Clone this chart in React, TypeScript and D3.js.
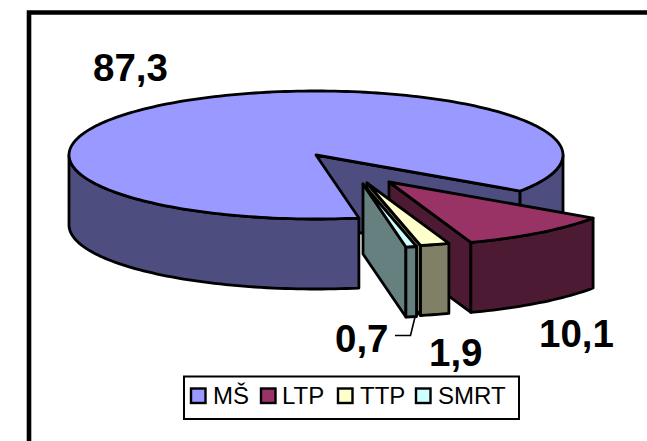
import React from "react";
import * as d3 from "d3";

// Share of each outcome, in percent
const categories = ["MŠ", "LTP", "TTP", "SMRT"];
const shares = [87.3, 10.1, 1.9, 0.7];
const shareLabels = ["87,3", "10,1", "1,9", "0,7"];
const topColors = ["#9999ff", "#993366", "#ffffcc", "#ccffff"];
const sideColors = ["#4d4d80", "#4d1a33", "#808066", "#668080"];

// Pull-out of each slice from the pie's centre, on screen
const explodeX = [0, 73, 51, 47];
const explodeY = [0, 27, 28, 29];

const CX = 316;
const CY = 155;
const RX = 247;
const RY = 64;
const DEPTH = 70;
const START = (170 * Math.PI) / 180;
const TAU = Math.PI * 2;

type Pt = [number, number];

const slices = d3
  .pie<number>()
  .sort(null)
  .startAngle(START)
  .endAngle(START + TAU)(shares);

const line = d3.line<Pt>();

// Point on the tilted rim; the angle runs clockwise from the top
const rim = (a: number, cx: number, cy: number): Pt => [
  cx + RX * Math.sin(a),
  cy - RY * Math.cos(a),
];

const rimPts = (a0: number, a1: number, cx: number, cy: number): Pt[] => {
  const n = Math.max(2, Math.ceil(Math.abs(a1 - a0) * 40));
  return d3.range(n + 1).map((i) => rim(a0 + ((a1 - a0) * i) / n, cx, cy));
};

// Outer wall between two angles
const wall = (a0: number, a1: number, cx: number, cy: number) => {
  const upper = rimPts(a0, a1, cx, cy);
  const lower = upper.map(([x, y]) => [x, y + DEPTH] as Pt).reverse();
  return line([...upper, ...lower]) + "Z";
};

// Flat cut face running from the centre out to the rim
const cut = (a: number, cx: number, cy: number) => {
  const [x, y] = rim(a, cx, cy);
  const pts: Pt[] = [
    [cx, cy],
    [x, y],
    [x, y + DEPTH],
    [cx, cy + DEPTH],
  ];
  return line(pts) + "Z";
};

const top = (a0: number, a1: number, cx: number, cy: number) =>
  line([[cx, cy], ...rimPts(a0, a1, cx, cy)]) + "Z";

const strokeProps = { stroke: "#000", strokeWidth: 2.8, strokeLinejoin: "round" as const };

const labelPos: Pt[] = [
  [93, 81],
  [539, 347],
  [429, 366],
  [335, 352],
];

const legendSwatchX = [191, 261, 338, 416];
const legendTextX = [213, 282, 360, 438];

export default function App() {
  const frontEnd = (270 * Math.PI) / 180;
  const backStart = (450 * Math.PI) / 180;
  const main = slices[0];
  const rest = slices.slice(1);

  return (
    <svg
      width={647}
      height={441}
      style={{ position: "absolute", left: 0, top: 0, background: "#fff" }}
      fontFamily="'Liberation Sans', Arial, sans-serif"
    >
      <path d="M647,12.5H29V441" fill="none" stroke="#000" strokeWidth={4.6} />

      {/* Large slice: walls first, then the top */}
      <path d={cut(main.endAngle, CX, CY)} fill={sideColors[0]} {...strokeProps} />
      <path d={wall(backStart, main.endAngle, CX, CY)} fill={sideColors[0]} {...strokeProps} />
      <path d={wall(main.startAngle, frontEnd, CX, CY)} fill={sideColors[0]} {...strokeProps} />
      <path d={top(main.startAngle, main.endAngle, CX, CY)} fill={topColors[0]} {...strokeProps} />

      {/* Pulled-out slices, back to front */}
      {rest.map((s, i) => {
        const k = i + 1;
        const cx = CX + explodeX[k];
        const cy = CY + explodeY[k];
        return (
          <g key={categories[k]}>
            <path d={cut(s.endAngle, cx, cy)} fill={sideColors[k]} {...strokeProps} />
            <path d={wall(s.startAngle, s.endAngle, cx, cy)} fill={sideColors[k]} {...strokeProps} />
            <path d={top(s.startAngle, s.endAngle, cx, cy)} fill={topColors[k]} {...strokeProps} />
          </g>
        );
      })}

      {/* Value labels */}
      {shareLabels.map((t, i) => (
        <text key={t} x={labelPos[i][0]} y={labelPos[i][1]} fontSize={38.5} fontWeight={700} fill="#000">
          {t}
        </text>
      ))}
      <path d="M415,317L410.5,335.5H395" fill="none" stroke="#000" strokeWidth={1.6} />

      {/* Legend */}
      <rect x={184} y={376.5} width={335} height={42.5} fill="#fff" stroke="#000" strokeWidth={2} />
      {categories.map((c, i) => (
        <g key={c}>
          <rect
            x={legendSwatchX[i]}
            y={388.5}
            width={14.5}
            height={14.5}
            fill={topColors[i]}
            stroke="#000"
            strokeWidth={2.4}
          />
          <text x={legendTextX[i]} y={404} fontSize={24} fill="#000">
            {c}
          </text>
        </g>
      ))}
    </svg>
  );
}
